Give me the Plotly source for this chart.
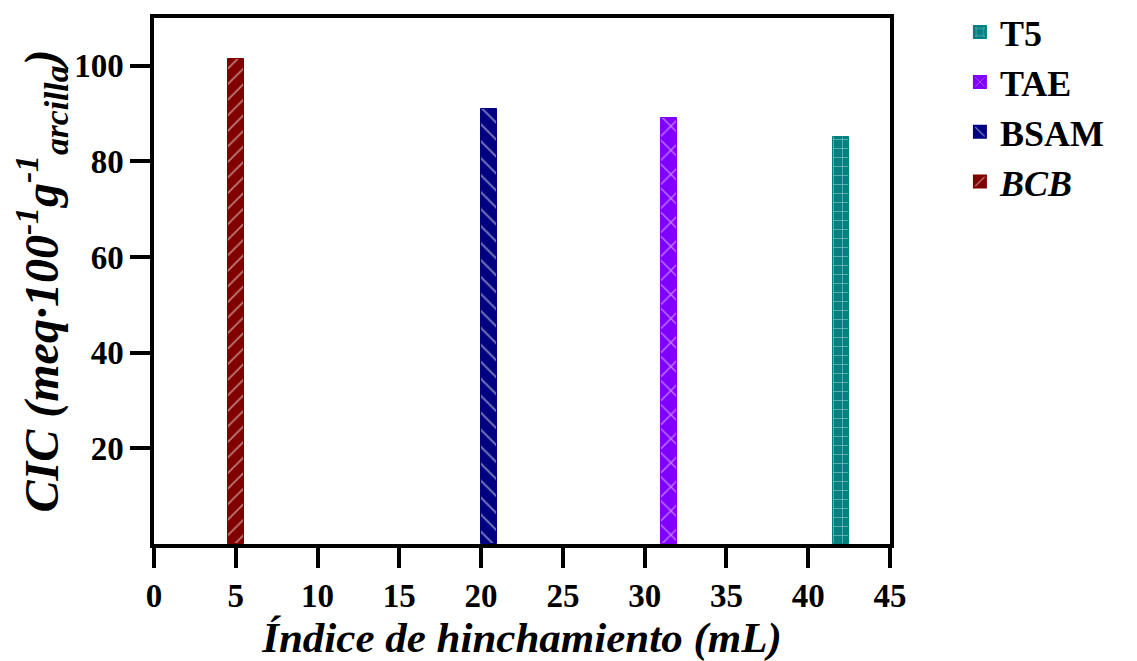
import plotly.graph_objects as go

names = ["<i>BCB</i>", "BSAM", "TAE", "T5"]
swelling = [5.0, 20.5, 31.5, 42.0]
cic = [101.5, 91.0, 89.1, 85.2]
colors = ["#800000", "#000080", "#8000FF", "#008080"]
shapes = ["/", "\\", "x", "+"]
pattern_sizes = [11, 12, 17, 9]
x_ticks = [0, 5, 10, 15, 20, 25, 30, 35, 40, 45]
y_ticks = [20, 40, 60, 80, 100]

FONT = "Liberation Serif"

fig = go.Figure()
for n, xv, yv, c, s, ps in zip(names, swelling, cic, colors, shapes, pattern_sizes):
    fig.add_trace(go.Bar(
        x=[xv], y=[yv], name=n, width=1.0,
        marker=dict(color=c, line=dict(color=c, width=1),
                    pattern=dict(shape=s, fgcolor="white", bgcolor=c,
                                 fillmode="overlay", size=ps, solidity=0.15)),
    ))

axis_common = dict(showline=True, linewidth=3.5, linecolor="black", mirror=True,
                   ticks="outside", ticklen=20, tickwidth=3.5, tickcolor="black",
                   showgrid=False, zeroline=False,
                   tickfont=dict(family=FONT, size=33, color="black", weight="bold"))

fig.update_layout(
    width=1137, height=661,
    paper_bgcolor="white", plot_bgcolor="white",
    margin=dict(l=146, r=255, t=10, b=125, autoexpand=False),
    showlegend=True,
    legend=dict(x=1.095, y=1.03, xanchor="left", yanchor="top", traceorder="reversed",
                font=dict(family=FONT, size=36, color="black", weight="bold"),
                itemsizing="constant", tracegroupgap=0, bgcolor="rgba(0,0,0,0)"),
    xaxis=dict(range=[0, 45], tickvals=x_ticks,
               title=dict(text="<b><i>Índice de hinchamiento (mL)</i></b>",
                          font=dict(family=FONT, size=43, color="black"), standoff=0),
               **axis_common),
    yaxis=dict(range=[0, 110], tickvals=y_ticks, ticksuffix="\u00a0",
               title=dict(text="<b><i>CIC (meq·100<sup>-1</sup>g<sup>-1</sup><sub>arcilla</sub>)</i></b>",
                          font=dict(family=FONT, size=48, color="black"), standoff=0),
               **axis_common),
    bargap=0,
)

fig.write_html("out.html")
